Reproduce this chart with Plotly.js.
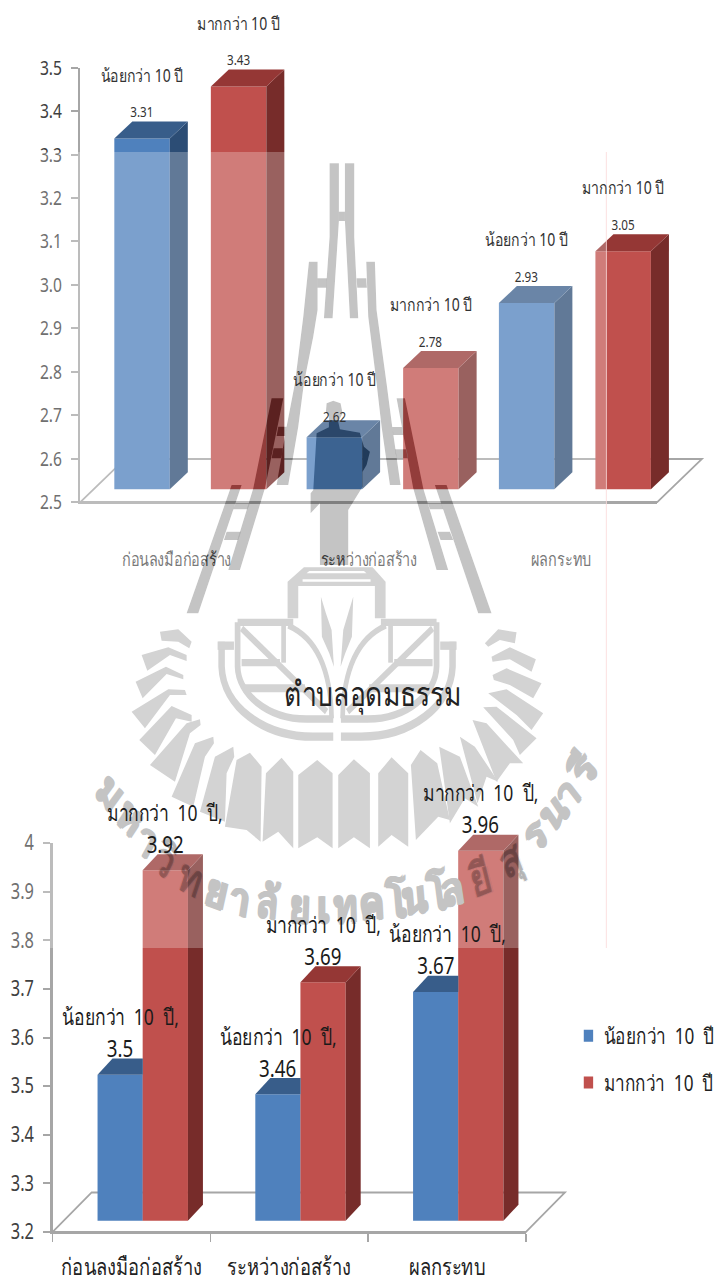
<!DOCTYPE html>
<html><head><meta charset="utf-8">
<script src="https://cdn.plot.ly/plotly-3.0.0.min.js"></script>
<style>html,body{margin:0;padding:0;background:#fff;overflow:hidden}
#frame{width:717px;height:1283px;overflow:hidden}
#chart{transform-origin:0 0}</style></head>
<body><div id="frame"><div id="chart"></div></div>
<script>
// ---------- chart data ----------
const categories = ["ก่อนลงมือก่อสร้าง", "ระหว่างก่อสร้าง", "ผลกระทบ"];
const seriesLess = "น้อยกว่า 10 ปี";
const seriesMore = "มากกว่า 10 ปี";
const topLess = [3.31, 2.62, 2.93];
const topMore = [3.43, 2.78, 3.05];
const bottomLess = [3.5, 3.46, 3.67];
const bottomMore = [3.92, 3.69, 3.96];
const bottomTitle = "ตำบลอุดมธรรม";
const topTicks = [2.5, 2.6, 2.7, 2.8, 2.9, 3.0, 3.1, 3.2, 3.3, 3.4, 3.5];
const bottomTicks = [3.2, 3.3, 3.4, 3.5, 3.6, 3.7, 3.8, 3.9, 4];

// ---------- page frame: the reference is a horizontally squeezed scan ----------
const W = 717, H = 1283, SQ = 0.78;
document.getElementById('chart').style.transform = 'scaleX(' + SQ + ')';
const THAI = '"Noto Sans",sans-serif';
const BLUE = {front:'#4f81bd', top:'#385d8a', side:'#2c4d75'};
const RED  = {front:'#c0504d', top:'#953735', side:'#772c2a'};
const AXIS = '#a6a6a6', GREY = '#c4c4c4', INK = 'rgba(0,0,0,0.23)';
const dx = v => v / W;
const dy = v => 1 - v / H;

const groups = [
  {cats:[0,1,2], xa:'x3', ya:'y3', w:0.2886, lessOff:-0.324, moreOff:0.178, ddx:0.0936, ddy:0.0393, base:2.5},
  {cats:[0,1,2], xa:'x4', ya:'y4', w:0.287, lessOff:-0.215, moreOff:0.071, ddx:0.095, ddy:0.033, base:3.2}
];

const traces = [
  {x:[null], y:[null], xaxis:'x', yaxis:'y', type:'scatter', mode:'markers', showlegend:false, hoverinfo:'skip'},
  {x:[null], y:[null], xaxis:'x2', yaxis:'y2', type:'scatter', mode:'markers', showlegend:false, hoverinfo:'skip'}
];
function face(g, xs, ys, color) {
  traces.push({x:xs, y:ys, xaxis:g.xa, yaxis:g.ya, type:'scatter', mode:'lines', fill:'toself',
    fillcolor:color, line:{width:0, color:color}, showlegend:false, hoverinfo:'skip'});
}
// hidden = this bar stands directly against the next one, which covers its side
function bars(g, vals, off, col, name, legend, hidden) {
  vals.forEach((v, i) => {
    const l = i + off, r = l + g.w;
    if (hidden) {
      face(g, [l, l + g.ddx, r, r, l], [v, v + g.ddy, v + g.ddy, v, v], col.top);
    } else {
      face(g, [r, r + g.ddx, r + g.ddx, r, r], [g.base, g.base + g.ddy, v + g.ddy, v, g.base], col.side);
      face(g, [l, l + g.ddx, r + g.ddx, r, l], [v, v + g.ddy, v + g.ddy, v, v], col.top);
    }
  });
  traces.push({type:'bar', x:g.cats, y:vals, width:g.w, offset:off, xaxis:g.xa, yaxis:g.ya,
    marker:{color:col.front, line:{width:0}}, name:name, showlegend:legend, legendgroup:name, hoverinfo:'y'});
}
const sp = s => s.replace(/ /g, '\u00a0\u00a0');
bars(groups[0], topLess, groups[0].lessOff, BLUE, seriesLess, false, false);
bars(groups[0], topMore, groups[0].moreOff, RED, seriesMore, false, false);
bars(groups[1], bottomLess, groups[1].lessOff, BLUE, sp(seriesLess), true, true);
bars(groups[1], bottomMore, groups[1].moreOff, RED, sp(seriesMore), true, false);

const annotations = [];
const squeezeAngle = a => Math.atan(Math.tan(a * Math.PI / 180) * SQ) * 180 / Math.PI;

// watermark lettering on its arc, first so that it stays under the data labels;
// angles are corrected for the squeeze, the last field marks letters over a bar
const arc = [
 ["ม",112,790,50,0],["ห",132,815,47,0],["า",148,838,42,0],["วิ",166,858,38,1],["ท",191,876,28,1],["ย",217,889,20,0],
 ["า",240,897,14,0],["ลั",268,900,8,0],["ย",300,904,3,0],["เ",324,905,0,0],["ท",346,904,-2,0],["ค",372,901,-5,0],
 ["โ",396,900,-8,0],["น",414,895,-8,0],["โ",437,892,-12,0],["ล",452,887,-14,0],["ยี",480,877,-22,1],["สุ",510,857,-32,1],
 ["ร",534,832,-42,0],["น",552,810,-48,0],["า",566,792,-52,0],["รี",582,768,-58,0]
];
arc.forEach(a => {
  const c = a[4] ? INK : GREY;
  annotations.push({xref:'paper', yref:'paper', x:dx(a[1]), y:dy(a[2]), text:'<b>' + a[0] + '</b>',
    textangle:squeezeAngle(a[3]), showarrow:false, xanchor:'center', yanchor:'middle',
    font:{family:THAI, size:46, color:c, shadow:'1.5px 0 0 ' + c + ', -1.5px 0 0 ' + c + ', 0 1px 0 ' + c}});
});

// ---------- data labels ----------
function label(g, val, i, off, name, cfg, extra) {
  const e = extra || {};
  const base = {xref:g.xa, yref:g.ya, x:i + off + g.w / 2, y:val, showarrow:false, xanchor:'center', yanchor:'middle',
    font:{family:THAI, size:cfg.vs, color:cfg.color}};
  annotations.push(Object.assign({}, base, {text:String(val), yshift:e.v || cfg.valueShift}));
  annotations.push(Object.assign({}, base, {text:cfg.fmt(name), xshift:(e.x || 0) / SQ, yshift:e.n || cfg.nameShift,
    font:{family:THAI, size:cfg.ns, color:cfg.color}}));
}
const topCfg = {vs:15, ns:18, color:'#333333', valueShift:27.5, nameShift:64, fmt:s => s};
const botCfg = {vs:24, ns:22.5, color:'#1a1a1a', valueShift:27, nameShift:58, fmt:s => sp(s) + ','};
topLess.forEach((v, i) => label(groups[0], v, i, groups[0].lessOff, seriesLess, topCfg, i === 1 ? {v:21, n:58} : null));
topMore.forEach((v, i) => label(groups[0], v, i, groups[0].moreOff, seriesMore, topCfg));
bottomLess.forEach((v, i) => label(groups[1], v, i, groups[1].lessOff, seriesLess, botCfg, i === 2 ? {x:12} : null));
bottomMore.forEach((v, i) => label(groups[1], v, i, groups[1].moreOff, seriesMore, botCfg));

// ---------- watermark (background emblem of the scanned page) ----------
const fromCrop = (ox, oy, pts) => pts.map(p => [ox + p[0] / 3, oy + p[1] / 3]);
const toPath = pts => pts.map((p, i) => (i ? 'L' : 'M') + dx(p[0]).toFixed(5) + ',' + dy(p[1]).toFixed(5)).join(' ') + ' Z';
const shapes = [];

const rays = [
 [90,600,[[210,95],[265,88],[305,125],[298,145],[265,125],[215,122]]],
 [90,600,[[155,165],[235,142],[290,165],[290,183],[240,165],[172,212]]],
 [90,600,[[137,245],[228,200],[280,225],[280,238],[230,222],[158,295]]],
 [90,600,[[125,335],[235,268],[285,270],[290,285],[240,285],[165,385]]],
 [90,600,[[148,420],[245,318],[305,345],[305,365],[258,355],[195,465]]],
 [90,600,[[180,495],[290,370],[330,358],[332,375],[300,400],[255,545]]],
 [90,600,[[245,590],[315,430],[370,410],[372,430],[345,470],[310,620]]],
 [90,600,[[330,635],[375,470],[430,440],[433,470],[410,520],[405,665]]],
 [90,600,[[405,680],[440,480],[480,458],[515,500],[512,725],[470,690]]],
 [90,600,[[528,520],[575,473],[610,515],[610,745],[565,695],[518,725]]],
 [90,600,[[625,525],[682,480],[728,520],[728,745],[682,712],[625,745]]],
 [90,600,[[745,525],[792,478],[840,520],[840,745],[792,712],[745,745]]],
 [350,600,[[85,520],[125,472],[175,520],[175,740],[125,705],[85,740]]],
 [350,600,[[183,495],[212,450],[262,490],[300,660],[265,650],[198,720]]],
 [350,600,[[268,440],[330,470],[385,620],[345,595],[300,670]]],
 [350,600,[[330,410],[375,440],[445,545],[410,530],[383,610]]],
 [350,600,[[368,360],[410,370],[520,490],[480,490],[440,545]]],
 [350,600,[[400,322],[440,320],[560,415],[510,465],[490,420]]],
 [350,600,[[415,280],[470,268],[580,340],[545,390],[500,345]]],
 [350,600,[[428,225],[470,205],[575,250],[550,295],[480,255],[432,240]]],
 [350,600,[[425,170],[480,142],[558,178],[545,215],[480,178],[428,185]]],
 [350,600,[[405,130],[445,88],[500,97],[495,130],[450,120],[415,140]]]
];
rays.forEach(r => shapes.push({type:'path', xref:'paper', yref:'paper', layer:'below',
  path:toPath(fromCrop(r[0], r[1], r[2])), fillcolor:GREY, line:{width:0}}));

// shield, drawn with thick strokes in crop coordinates of (180,480)
const seg = segs => segs.map(s => s[0] + s.slice(1).reduce((a, v, i, arr) => {
  if (i % 2) return a;
  const p = [180 + v / 3, 480 + arr[i + 1] / 3];
  return a.concat(dx(p[0]).toFixed(5) + ',' + dy(p[1]).toFixed(5));
}, []).join(' ')).join(' ');
const mir = 943;
const mirror = segs => segs.map(s => [s[0]].concat(s.slice(1).map((v, i) => i % 2 ? v : mir - v)));
const shieldStrokes = [
 [25,[['M',125,485],['L',125,560],['C',130,680,250,770,400,770],['L',460,770]]],
 [25,[['M',113,497],['L',162,497]]],
 [22,[['M',173,427],['L',173,560],['C',175,640,260,717,380,717],['L',460,717]]],
 [22,[['M',173,427],['L',340,427]]],
 [20,[['M',185,445],['L',440,695]]],
 [22,[['M',185,548],['L',300,548]]],
 [24,[['M',190,625],['L',375,625]]],
 [18,[['M',311,438],['L',311,548]]],
 [18,[['M',325,437],['C',400,470,452,550,455,715]]]
];
shieldStrokes.forEach(s => {
  [s[1], mirror(s[1])].forEach(p => shapes.push({type:'path', xref:'paper', yref:'paper', layer:'below',
    path:seg(p), fillcolor:'rgba(0,0,0,0)', line:{color:GREY, width:s[0] / 3}}));
});
const shieldFills = [
 [[323,415],[323,305],[372,262],[578,262],[617,305],[617,415],[585,415],[585,318],[355,318],[355,415]],
 [[423,350],[438,400],[455,450],[462,560],[448,520],[426,470]],
 [[520,350],[505,400],[490,450],[482,560],[496,520],[516,470]]
];
shieldFills.forEach(p => shapes.push({type:'path', xref:'paper', yref:'paper', layer:'below',
  path:toPath(fromCrop(180, 480, p)), fillcolor:GREY, line:{width:0}}));
shapes.push({type:'path', xref:'paper', yref:'paper', layer:'below',
  path:toPath(fromCrop(180, 480, [[368,298],[572,298],[572,305],[368,305]])), fillcolor:'#ffffff', line:{width:0}});
shapes.push({type:'path', xref:'paper', yref:'paper', layer:'below',
  path:toPath(fromCrop(180, 480, [[388,273],[552,273],[560,280],[380,280]])), fillcolor:'#ffffff', line:{width:0}});

// tower, ladders and statue sit over the bars, so they are translucent
const tower = [
 [180,150,[[449,40],[477,40],[477,185],[477,213],[458,505],[432,505],[449,260]]],
 [180,150,[[495,40],[523,40],[523,260],[535,505],[510,505],[495,213],[495,185]]],
 [180,150,[[477,185],[495,185],[495,213],[477,213]]],
 [180,150,[[387,335],[413,335],[413,480],[400,560],[372,700],[355,830],[325,1005],[290,1005],[320,830],[345,700],[370,500]]],
 [180,150,[[559,335],[585,335],[590,480],[620,700],[637,830],[662,1005],[630,1005],[605,830],[590,700],[565,500]]],
 [180,150,[[413,385],[441,385],[439,413],[413,413]]],
 [180,150,[[530,385],[559,385],[561,413],[532,413]]],
 [180,150,[[295,830],[320,830],[316,858],[290,858]]],
 [180,150,[[281,895],[310,895],[303,925],[275,925]]],
 [170,390,[[305,25],[340,25],[285,295],[210,540],[175,540],[250,295]]],
 [170,390,[[185,285],[215,285],[85,670],[50,670]]],
 [170,390,[[197,340],[240,340],[233,358],[190,358]]],
 [170,390,[[170,425],[213,425],[205,450],[162,450]]],
 [370,390,[[80,25],[105,25],[160,295],[235,540],[200,540],[130,295]]],
 [370,390,[[195,285],[230,285],[365,670],[325,670]]],
 [370,390,[[67,111],[96,111],[100,135],[70,135]]],
 [370,390,[[75,178],[110,178],[115,205],[80,205]]],
 [370,390,[[174,340],[214,340],[220,358],[180,358]]],
 [370,390,[[203,425],[240,425],[250,450],[212,450]]],
 [180,150,[[440,760],[460,752],[482,760],[488,790],[475,815],[480,838],[540,848],[552,890],[570,905],[560,945],[548,965],[548,1010],[505,1080],[505,1245],[420,1245],[420,1060],[392,1090],[392,1030],[400,1020],[410,850],[447,832],[447,800],[438,785]]]
];
const towerPts = tower.map(t => fromCrop(t[0], t[1], t[2]));
towerPts.forEach(p => shapes.push({type:'path', xref:'paper', yref:'paper', layer:'above',
  path:toPath(p), fillcolor:INK, line:{width:0}}));

// translucent white sheet of the watermark, with the emblem cut out of it
const sheet = toPath([[0,152],[606,152],[606,948],[0,948]]) + ' ' + towerPts.map(toPath).join(' ');
shapes.push({type:'path', xref:'paper', yref:'paper', layer:'above', path:sheet, fillrule:'evenodd',
  fillcolor:'rgba(255,255,255,0.25)', line:{width:0}});
shapes.push({type:'path', xref:'paper', yref:'paper', layer:'above',
  path:'M' + dx(606.5) + ',' + dy(152) + ' L' + dx(606.5) + ',' + dy(948), line:{color:'#fbdcdc', width:1}});

// floor planes
function floor(x0, x1, y0, ox, oy) {
  const p = [[x0,y0],[x1,y0],[x1 + ox,y0 - oy],[x0 + ox,y0 - oy]];
  shapes.push({type:'path', xref:'paper', yref:'paper', layer:'below', path:toPath(p),
    fillcolor:'rgba(0,0,0,0)', line:{color:AXIS, width:2}});
}
floor(80.5, 657.5, 502, 44.5, 43);
floor(52.6, 526, 1232, 39, 39.5);

const yCommon = {showgrid:false, zeroline:false, showline:true, linecolor:AXIS, linewidth:2.5, ticks:'outside',
  tickcolor:AXIS, tickwidth:1.5, ticklen:7 / SQ, ticklabelstandoff:8, tickfont:{family:THAI, size:20, color:'#404040'}};
const topX1 = 702, botX1 = 565; // the depth of the last bar runs past the axis end
const layout = {
  width:W / SQ, height:H, margin:{l:0, r:0, t:0, b:0, autoexpand:false}, paper_bgcolor:'#fff', plot_bgcolor:'rgba(0,0,0,0)',
  barmode:'overlay', font:{family:THAI},
  title:{text:bottomTitle, x:373 / W, xanchor:'center', y:1 - 694 / H, yanchor:'middle',
    font:{family:'"Liberation Serif",' + THAI, size:34, color:'#222222'}},
  xaxis:{domain:[dx(80.5), dx(657.5)], range:[-0.5, 2.5], anchor:'y', showgrid:false, zeroline:false, showline:true,
    linecolor:AXIS, linewidth:2, ticks:'', tickvals:[0,1,2], ticktext:categories, ticklabelstandoff:40,
    tickfont:{family:THAI, size:18.5, color:'#4d4d4d'}},
  yaxis:Object.assign({}, yCommon, {domain:[dy(502), dy(67.7)], range:[2.5, 3.5], anchor:'x', tickvals:topTicks,
    ticktext:topTicks.map(v => v.toFixed(1))}),
  xaxis3:{domain:[dx(80.5), dx(topX1)], range:[-0.5, -0.5 + 3 * (topX1 - 80.5) / (657.5 - 80.5)], anchor:'y3', visible:false},
  yaxis3:{domain:[dy(489.3), dy(56.3)], range:[2.5, 3.5], anchor:'x3', visible:false},
  xaxis2:{domain:[dx(52.6), dx(526)], range:[-0.5, 2.5], anchor:'y2', showgrid:false, zeroline:false, showline:true,
    linecolor:AXIS, linewidth:2, ticks:'', tickvals:[0,1,2], ticktext:categories, ticklabelstandoff:13,
    minor:{tickvals:[-0.5,0.5,1.5,2.5], ticks:'outside', ticklen:8, tickcolor:AXIS, tickwidth:2},
    tickfont:{family:THAI, size:23.5, color:'#222222'}},
  yaxis2:Object.assign({}, yCommon, {domain:[dy(1232), dy(843)], range:[3.2, 4], anchor:'x2', tickvals:bottomTicks,
    ticktext:bottomTicks.map(String), tickfont:{family:THAI, size:21, color:'#404040'}}),
  xaxis4:{domain:[dx(52.6), dx(botX1)], range:[-0.5, -0.5 + 3 * (botX1 - 52.6) / (526 - 52.6)], anchor:'y4', visible:false},
  yaxis4:{domain:[dy(1220.7), dy(831.3)], range:[3.2, 4], anchor:'x4', visible:false},
  legend:{x:dx(573), y:dy(1015), xanchor:'left', yanchor:'top', bgcolor:'rgba(0,0,0,0)', tracegroupgap:15,
    traceorder:'grouped', font:{family:THAI, size:22, color:'#222222'}},
  shapes:shapes, annotations:annotations
};
Plotly.newPlot('chart', traces, layout, {displayModeBar:false, responsive:false});
</script></body></html>
